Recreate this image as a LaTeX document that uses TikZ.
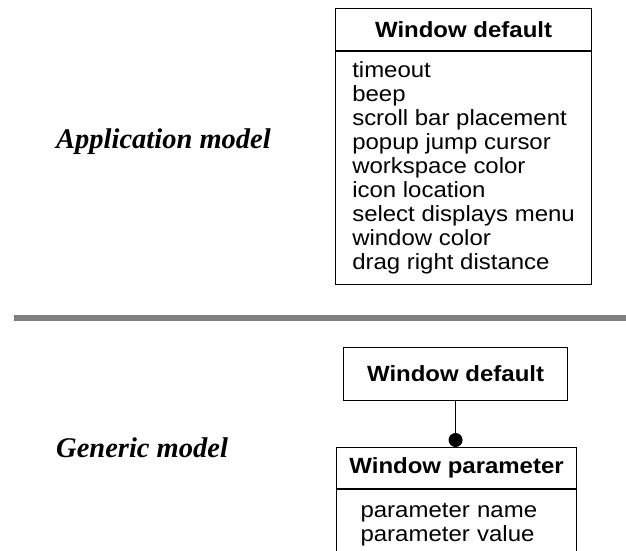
\documentclass[tikz,border=0pt]{standalone}
\usepackage{fontspec}
\newfontfamily\boxfont[FakeStretch=1.09]{Liberation Sans}
\newfontfamily\modelfont{Liberation Serif}
\usetikzlibrary{arrows.meta, positioning}

\begin{document}
\begin{tikzpicture}[
	x=1pt, y=-1pt,
	classhead/.style={draw=black, line width=1.1pt, inner sep=0pt,
		font=\boxfont\bfseries\fontsize{22}{24}\selectfont},
	classbody/.style={draw=black, line width=1.1pt, inner ysep=0pt,
		align=left, font=\boxfont\fontsize{22}{24}\selectfont},
	modellabel/.style={anchor=west, inner sep=0pt,
		font=\modelfont\bfseries\itshape\fontsize{28.5}{34}\selectfont},
	divider/.style={line width=6pt, draw=black!50}
	]
	\useasboundingbox (0,0) rectangle (626,550);
	
	% Upper half: application model
	\node[modellabel] (applabel) at (56,142) {Application model};
	\node[classhead, minimum width=256pt, minimum height=42pt, anchor=north west]
		(apphead) at (335,8) {Window default};
	\node[classbody, below=0pt of apphead, minimum width=256pt,
		minimum height=233pt] (appbody)
		{timeout\\beep\\scroll bar placement\\popup jump cursor\\workspace color\\
		 icon location\\select displays menu\\window color\\drag right distance};
	
	% Divider between the two models
	\coordinate (divleft) at (14,318);
	\coordinate (divright) at (626,318);
	\draw[divider] (divleft) -- (divright);
	
	% Lower half: generic model
	\node[modellabel] (genlabel) at (56,448) {Generic model};
	\node[classhead, minimum width=224pt, minimum height=53pt, anchor=north west]
		(gendef) at (343,347) {Window default};
	\node[classhead, minimum width=240pt, minimum height=41pt, anchor=north west]
		(genhead) at (336,447) {Window parameter};
	\node[classbody, below=0pt of genhead, minimum height=70pt,
		text width=192pt, inner xsep=24pt] (genbody)
		{parameter name\\parameter value};
	
	% Connector with dot end
	\draw[line width=1.1pt, -{Circle[length=14pt]}]
		(gendef.south) -- (gendef.south |- genhead.north);
	
\end{tikzpicture}
\end{document}
